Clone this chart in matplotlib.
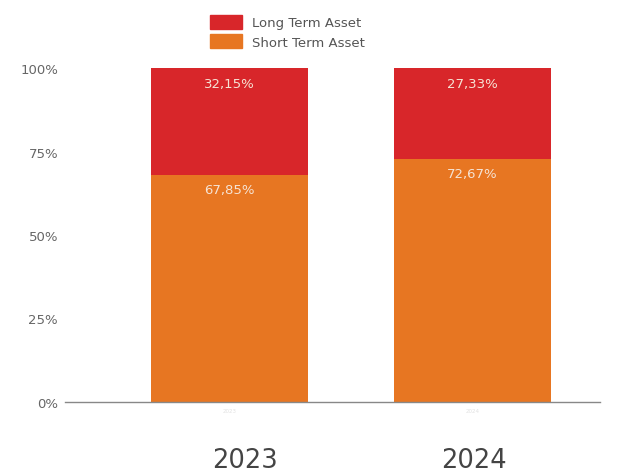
import matplotlib.pyplot as plt
from matplotlib.patches import Patch

years = ["2023", "2024"]
short_term = [67.85, 72.67]
long_term = [32.15, 27.33]
y_ticks = [0, 25, 50, 75, 100]
y_tick_labels = ["0%", "25%", "50%", "75%", "100%"]

red = "#D8262A"
orange = "#E77622"

W, H = 627, 477
fig = plt.figure(figsize=(W / 100, H / 100), dpi=100)
ax = fig.add_axes([65 / W, 1 - 403 / H, 535 / W, 334 / H])

x = list(range(len(years)))
width = 0.646
ax.bar(x, short_term, width=width, color=orange, zorder=2)
ax.bar(x, long_term, width=width, bottom=short_term, color=red, zorder=2)

def fmt(v):
    return f"{v:.2f}".replace(".", ",") + "%"

for xi, s, l in zip(x, short_term, long_term):
    ax.annotate(fmt(s), (xi, s), xytext=(0, -10.5), textcoords="offset points",
                ha="center", va="center", color="#F6E3D4", fontsize=9.5)
    ax.annotate(fmt(l), (xi, s + l), xytext=(0, -11), textcoords="offset points",
                ha="center", va="center", color="#F6E3D4", fontsize=9.5)

ax.set_xlim(-0.677, 1.525)
ax.set_ylim(0, 100)
ax.set_yticks(y_ticks)
ax.set_yticklabels(y_tick_labels, color="#666666", fontsize=9.5)
ax.tick_params(axis="y", length=0, pad=5)
ax.set_xticks(x)
ax.set_xticklabels(years, color="#E2E2E2", fontsize=4)
ax.tick_params(axis="x", length=0, pad=4)

for side in ["top", "right", "left"]:
    ax.spines[side].set_visible(False)
ax.spines["bottom"].set_color("#888888")
ax.spines["bottom"].set_linewidth(1.0)
ax.spines["bottom"].set_zorder(3)

# large year captions below the axis
caption_x = [245, 473.5]
for cx, year in zip(caption_x, years):
    fig.text(cx / W, 1 - 461 / H, year, ha="center", va="center",
             fontsize=18.5, color="#444444")

handles = [Patch(color=red, label="Long Term Asset"),
           Patch(color=orange, label="Short Term Asset")]
fig.legend(handles=handles, loc="upper left", bbox_to_anchor=(198 / W, 1 - 4 / H),
           frameon=False, fontsize=9.5, handlelength=2.4, handleheight=1.3,
           labelcolor="#555555", handletextpad=0.8, labelspacing=0.35)

fig.savefig("out.png", dpi=100)
